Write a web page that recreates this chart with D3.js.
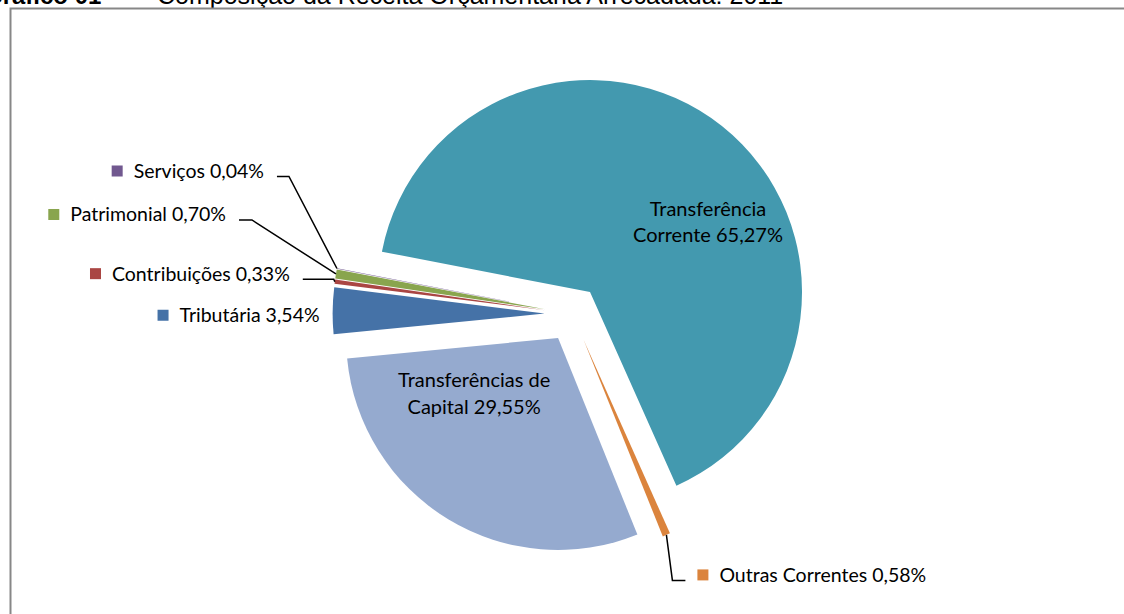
<!DOCTYPE html>
<html>
<head>
	<meta charset="utf-8">
	<title>Gráfico 01</title>
	<script src="https://d3js.org/d3.v7.min.js"></script>
	<style>
		body { margin: 0; background: #fff; }
		svg { display: block; }
	</style>
</head>
<body>
	<div class="chart"></div>

	<script type="text/javascript">

		// categorias (ordem do Excel, sentido horário)
		const categories = ['Transferência Corrente', 'Outras Correntes', 'Transferências de Capital', 'Tributária', 'Contribuições', 'Patrimonial', 'Serviços']

		// percentuais
		const values = [65.27, 0.58, 29.55, 3.54, 0.33, 0.70, 0.04]

		// cores das fatias
		const colors = ['#4399AF', '#DB843D', '#95AACF', '#4572A7', '#AA4643', '#89A54E', '#71588F']

		// rótulos internos (quebra de linha) ou externos
		const labelLines = [['Transferência', 'Corrente'], null, ['Transferências de', 'Capital'], null, null, null, null]

		var width = 1124
		var height = 614

		var svg = d3
			.select('.chart')
			.append('svg')
			.attr('width', width)
			.attr('height', height)

		// título (cortado no topo)
		var title = svg.append('text')
			.attr('y', 4)
			.style('font-family', '"Liberation Sans", Arial, sans-serif')
			.style('font-size', '24px')
			.attr('fill', '#000')
		title.append('tspan').attr('x', -16).style('font-weight', 'bold').text('Gráfico 01')
		title.append('tspan').attr('x', 115).text('–')
		title.append('tspan').attr('x', 157).style('font-size', '25px').text('Composição da Receita Orçamentária Arrecadada: 2011')

		// moldura
		svg.append('rect')
			.attr('x', 10.5)
			.attr('y', 8.5)
			.attr('width', width + 20)
			.attr('height', height + 20)
			.attr('fill', 'none')
			.attr('stroke', '#878787')
			.attr('stroke-width', 2)

		/**
		 * pizza
		 */
		const cx = 572.6
		const cy = 314
		const radius = 212
		const explode = 28

		const pie = d3.pie()
			.sort(null)
			.startAngle(-79 * Math.PI / 180)
			.endAngle(281 * Math.PI / 180)
			.value((d) => d)

		const arc = d3.arc().innerRadius(0).outerRadius(radius)

		const arcs = pie(values)

		const fmt = (v) => v.toFixed(2).replace('.', ',') + '%'

		// deslocamento de cada fatia
		function shift(d) {
			const a = (d.startAngle + d.endAngle) / 2
			return [cx + explode * Math.sin(a), cy - explode * Math.cos(a)]
		}
		// ponto no arco externo
		function outer(d) {
			const a = (d.startAngle + d.endAngle) / 2
			const s = shift(d)
			return [s[0] + radius * Math.sin(a), s[1] - radius * Math.cos(a)]
		}

		const chart = svg.append('g')

		chart.selectAll('path.slice')
			.data(arcs)
			.enter()
			.append('path')
			.attr('class', 'slice')
			.attr('transform', (d) => `translate(${shift(d)[0]}, ${shift(d)[1]})`)
			.attr('d', arc)
			.attr('fill', (d, i) => colors[i])

		const labelFont = 'Lato, "Open Sans", sans-serif'

		// rótulos internos: deslocamento a partir do centróide
		const innerOffset = { 0: [52, 6.5], 2: [-29, -41.5] }

		arcs.forEach((d, i) => {
			if (!labelLines[i]) return
			const s = shift(d)
			const c = arc.centroid(d)
			const x = s[0] + c[0] + innerOffset[i][0]
			const y = s[1] + c[1] + innerOffset[i][1]
			const lines = labelLines[i].slice()
			lines[lines.length - 1] += ' ' + fmt(values[i])
			const t = chart.append('text')
				.attr('text-anchor', 'middle')
				.style('font-family', labelFont)
				.style('font-size', '20px')
				.attr('fill', '#000')
			lines.forEach((l, k) => {
				t.append('tspan').attr('x', x).attr('y', y + k * 26.5).text(l)
			})
		})

		// rótulos externos: cotovelo da linha de chamada relativo ao arco externo
		const outerLabels = {
			1: { ex: 6, ey: 45.5, h: 13, side: 'right', leader: true },
			3: { ex: 0, ey: 10, h: 0, side: 'left', leader: false },
			4: { ex: -1, ey: -2.5, h: 31, side: 'left', leader: true },
			5: { ex: -84, ey: -54, h: 13, side: 'left', leader: true },
			6: { ex: -48, ey: -92, h: 12, side: 'left', leader: true }
		}

		arcs.forEach((d, i) => {
			const cfg = outerLabels[i]
			if (!cfg) return
			const o = outer(d)
			const ex = o[0] + cfg.ex
			const ey = o[1] + cfg.ey
			const dir = cfg.side === 'left' ? -1 : 1
			const endX = ex + dir * cfg.h

			if (cfg.leader) {
				chart.append('path')
					.attr('d', d3.line()([o, [ex, ey], [endX, ey]]))
					.attr('fill', 'none')
					.attr('stroke', '#000')
					.attr('stroke-width', 1.5)
			}

			const g = chart.append('g')
			const t = g.append('text')
				.style('font-family', labelFont)
				.style('font-size', '19.5px')
				.attr('fill', '#000')
				.attr('y', ey + 1.5)
				.text(categories[i] + ' ' + fmt(values[i]))
			const w = t.node().getComputedTextLength()
			let textStart
			if (dir < 0) {
				textStart = endX - 13 - w
			} else {
				textStart = endX + 34
			}
			t.attr('x', textStart)
			g.append('rect')
				.attr('x', textStart - 22)
				.attr('y', ey + 1.5 - 12.5)
				.attr('width', 11)
				.attr('height', 11)
				.attr('fill', colors[i])
		})

	</script>
</body>
</html>
